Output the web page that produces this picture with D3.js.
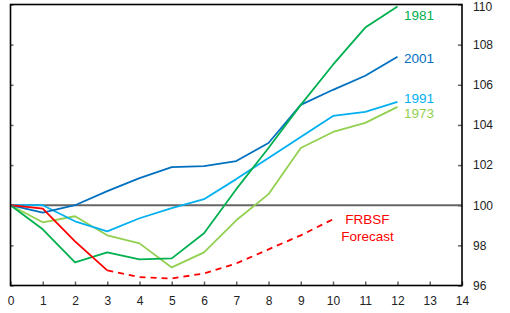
<!DOCTYPE html>
<html><head><meta charset="utf-8">
<script src="https://cdn.jsdelivr.net/npm/d3@7"></script>
<style>body{margin:0;background:#fff}svg{display:block}text{font-family:"Liberation Sans",Arial,sans-serif}</style>
</head><body><svg id="c" width="510" height="313"></svg>
<script>
const quarters = d3.range(0, 13);
const s1981 = [100, 98.8, 97.15, 97.65, 97.3, 97.35, 98.6, 100.8, 102.85, 105.0, 107.0, 108.85, 109.9];
const s2001 = [100, 99.63, 100, 100.7, 101.35, 101.9, 101.95, 102.2, 103.1, 105.0, 105.75, 106.45, 107.4];
const s1991 = [100, 100, 99.2, 98.7, 99.35, 99.85, 100.3, 101.3, 102.35, 103.4, 104.45, 104.65, 105.15];
const s1973 = [100, 99.15, 99.45, 98.5, 98.1, 96.9, 97.65, 99.25, 100.55, 102.85, 103.65, 104.1, 104.9];
const frbsfActual = [100, 99.83, 98.2, 96.75];
const frbsfForecast = [null, null, null, 96.75, 96.42, 96.35, 96.6, 97.1, 97.8, 98.5, 99.3];
const xTicks = d3.range(0, 15);
const yTicks = [96, 98, 100, 102, 104, 106, 108, 110];

const svg = d3.select("#c");
const x = d3.scaleLinear().domain([0, 14]).range([10.5, 462]);
const y = d3.scaleLinear().domain([96, 110]).range([285.5, 4.5]);

// zero line
svg.append("line").attr("x1", x(0)).attr("x2", x(14)).attr("y1", y(100)).attr("y2", y(100))
  .attr("stroke", "#666").attr("stroke-width", 2);

const line = d3.line().defined(d => d != null).x((d, i) => x(i)).y(d => y(d));
const series = [
  {v: s1973, c: "#92D050"},
  {v: s1991, c: "#00B0F0"},
  {v: s2001, c: "#0070C0"},
  {v: s1981, c: "#00B050"},
];
series.forEach(s => svg.append("path").attr("d", line(s.v)).attr("fill", "none")
  .attr("stroke", s.c).attr("stroke-width", 1.8).attr("stroke-linejoin", "round"));
svg.append("path").attr("d", line(frbsfActual)).attr("fill", "none").attr("stroke", "#FF0000").attr("stroke-width", 1.8);
svg.append("path").attr("d", line(frbsfForecast)).attr("fill", "none").attr("stroke", "#FF0000")
  .attr("stroke-width", 1.8).attr("stroke-dasharray", "6,5");

// axes
const bottom = svg.append("g").attr("transform", `translate(0,${y(96)})`)
  .call(d3.axisBottom(x).tickValues(xTicks).tickSize(-4).tickPadding(11).tickFormat(d3.format("d")));
const right = svg.append("g").attr("transform", `translate(${x(14)},0)`)
  .call(d3.axisRight(y).tickValues(yTicks).tickSize(-4).tickFormat(d3.format("d")));
const left = svg.append("g").attr("transform", `translate(${x(0)},0)`)
  .call(d3.axisLeft(y).tickValues(yTicks).tickSize(-3).tickFormat(""));
[bottom, right, left].forEach(g => {
  g.select(".domain").remove();
  g.selectAll(".tick line").attr("stroke", "#666").attr("stroke-width", 1.5);
  g.selectAll("text").attr("fill", "#222").attr("font-size", 12);
});
right.selectAll("text").attr("x", 11).attr("y", d => d === 110 ? 2 : 0);

// frame
svg.append("rect").attr("x", x(0)).attr("y", y(110)).attr("width", x(14) - x(0)).attr("height", y(96) - y(110))
  .attr("fill", "none").attr("stroke", "#000").attr("stroke-width", 1.6);

// labels
const labels = [
  {t: "1981", q: 12.2, v: 109.45, c: "#00B050"},
  {t: "2001", q: 12.2, v: 107.3, c: "#0070C0"},
  {t: "1991", q: 12.2, v: 105.35, c: "#00B0F0"},
  {t: "1973", q: 12.2, v: 104.6, c: "#92D050"},
];
labels.forEach(l => svg.append("text").attr("x", x(l.q)).attr("y", y(l.v)).attr("dy", "0.35em")
  .attr("fill", l.c).attr("font-size", 13.5).text(l.t));
svg.append("text").attr("x", x(11.07)).attr("y", y(99.3)).attr("dy", "0.35em").attr("text-anchor", "middle")
  .attr("fill", "#FF0000").attr("font-size", 13.5).text("FRBSF");
svg.append("text").attr("x", x(11.07)).attr("y", y(98.45)).attr("dy", "0.35em").attr("text-anchor", "middle")
  .attr("fill", "#FF0000").attr("font-size", 13.5).text("Forecast");
</script></body></html>
